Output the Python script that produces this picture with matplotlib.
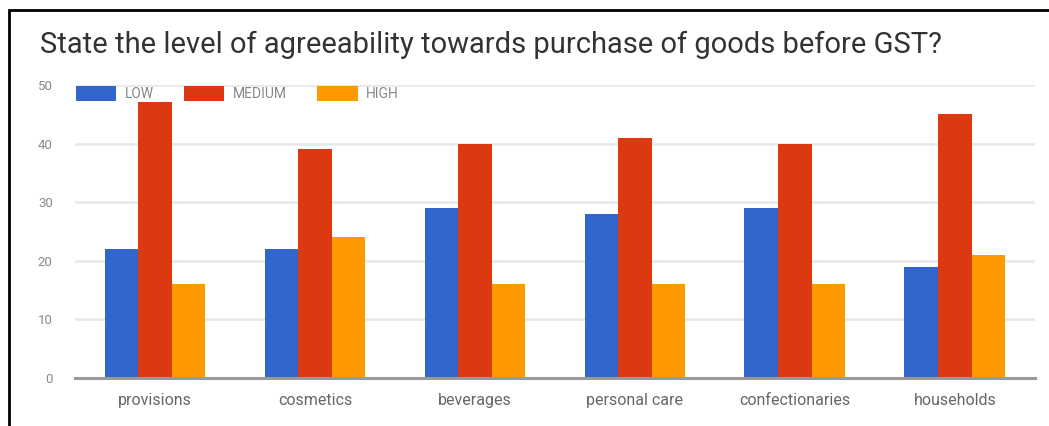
import matplotlib.pyplot as plt
import numpy as np
from matplotlib.patches import Rectangle

categories = ['provisions', 'cosmetics', 'beverages', 'personal care', 'confectionaries', 'households']
low = [22, 22, 29, 28, 29, 19]
medium = [47, 39, 40, 41, 40, 45]
high = [16, 24, 16, 16, 16, 21]
series_names = ['LOW', 'MEDIUM', 'HIGH']
colors = ['#3366cc', '#dc3912', '#ff9900']

plt.rcParams['font.family'] = ['Roboto', 'DejaVu Sans']

fig = plt.figure(figsize=(10.49, 4.26), dpi=100)
ax = fig.add_axes([0.0715, 0.1127, 0.915, 0.688])

x = np.arange(len(categories))
w = 0.21
for i, (vals, name, c) in enumerate(zip([low, medium, high], series_names, colors)):
    ax.bar(x + (i - 1) * w, vals, width=w, color=c, label=name, zorder=3)

ax.set_xlim(-0.5, len(categories) - 0.5)
ax.set_ylim(0, 50)
ax.set_yticks([0, 10, 20, 30, 40, 50])
ax.set_xticks(x)
ax.set_xticklabels(categories, fontsize=11.5, color='#666666')
ax.tick_params(axis='y', labelsize=9.5, colors='#888888', length=0, pad=16)
ax.tick_params(axis='x', length=0, pad=11)
ax.grid(axis='y', color='#e8e8e8', lw=1.8, zorder=0)
for s in ['top', 'right', 'left']:
    ax.spines[s].set_visible(False)
ax.spines['bottom'].set_color('#999999')
ax.spines['bottom'].set_linewidth(2.2)
ax.spines['bottom'].set_zorder(4)

ax.legend(loc='upper left', bbox_to_anchor=(-0.012, 1.04), ncol=3, frameon=False,
          fontsize=10, labelcolor='#888888', handlelength=2.9, handleheight=1.3,
          columnspacing=2.2, handletextpad=0.6)

fig.text(0.038, 0.895, 'State the level of agreeability towards purchase of goods before GST?',
         fontsize=21, color='#333333', va='center')

# outer frame
fig.patches.append(Rectangle((0.0086, -0.05), 1.05, 1.026, transform=fig.transFigure,
                             fill=False, ec='black', lw=2))

fig.savefig('out.png', dpi=100)
